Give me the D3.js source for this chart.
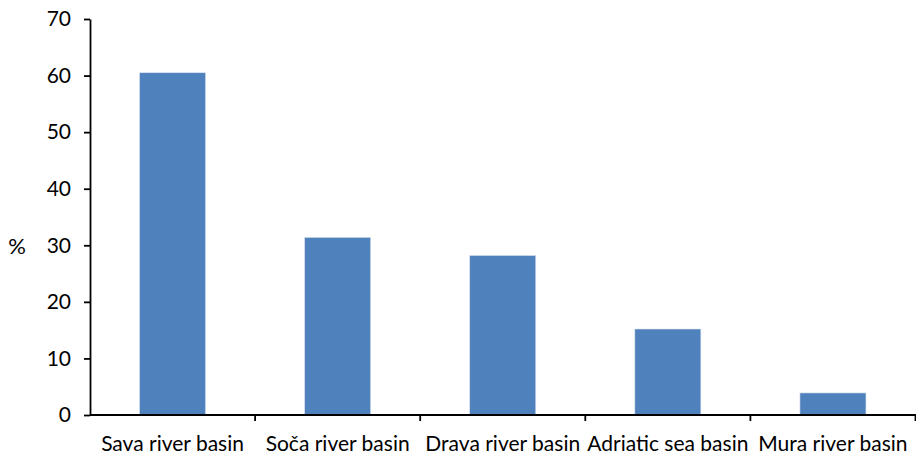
<!DOCTYPE html>
<html><head><meta charset="utf-8">
<script src="https://cdn.jsdelivr.net/npm/d3@7"></script>
<style>body{margin:0;background:#fff}svg{display:block}text{font-family:Lato,"Open Sans",sans-serif;fill:#000}</style>
</head><body><svg id="c" width="916" height="455"></svg>
<script>
const categories = ["Sava river basin","Soča river basin","Drava river basin","Adriatic sea basin","Mura river basin"];
const values = [60.5, 31.4, 28.2, 15.2, 3.9];
const yTicks = [0,10,20,30,40,50,60,70];

const svg = d3.select("#c");
const m = {l:90, r:0, t:19, b:40};
const W = 916, H = 455;
const x = d3.scaleBand().domain(categories).range([m.l, W - 0.5]).paddingInner(0.6).paddingOuter(0.3);
const y = d3.scaleLinear().domain([0,70]).range([415, m.t]);

svg.selectAll("rect.bar").data(values).join("rect")
  .attr("class","bar")
  .attr("x",(d,i)=>x(categories[i]))
  .attr("width",x.bandwidth())
  .attr("y",d=>y(d))
  .attr("height",d=>y(0)-y(d))
  .attr("fill","#4f81bd")
  .attr("stroke","#dbe3f0").attr("stroke-width",0.6);

// y axis
const ya = svg.append("g").attr("transform",`translate(${m.l},0)`)
  .call(d3.axisLeft(y).tickValues(yTicks).tickSize(6).tickSizeOuter(0).tickPadding(13));
ya.select(".domain").attr("stroke","#000").attr("stroke-width",1.8);
ya.selectAll(".tick line").attr("stroke","#000").attr("stroke-width",1.8);
ya.selectAll(".tick text").attr("font-size",21).attr("font-family","Lato").attr("fill","#000");

// x axis with ticks at boundaries
const xa = svg.append("g").attr("transform",`translate(0,${y(0)})`);
xa.append("line").attr("x1",m.l).attr("x2",W).attr("y1",0).attr("y2",0).attr("stroke","#000").attr("stroke-width",1.8);
const step = x.step();
const bounds = categories.map((c,i)=>x(c) - x.paddingInner()*step/2 + step);
xa.selectAll("line.t").data(bounds).join("line").attr("class","t")
  .attr("x1",d=>d).attr("x2",d=>d).attr("y1",0).attr("y2",6).attr("stroke","#000").attr("stroke-width",1.8);
xa.selectAll("text.lab").data(categories).join("text").attr("class","lab")
  .attr("x",d=>x(d)+x.bandwidth()/2).attr("y",36)
  .attr("text-anchor","middle").attr("font-size",21).text(d=>d);

svg.append("text").attr("x",17).attr("y",254).attr("text-anchor","middle").attr("font-size",22).text("%");
</script></body></html>
